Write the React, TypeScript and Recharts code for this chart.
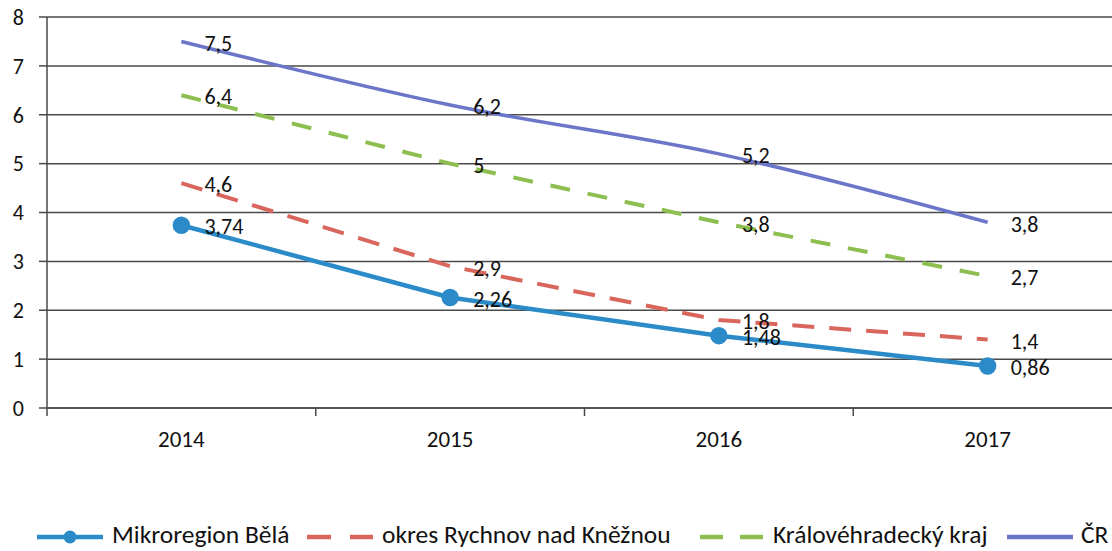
import React from 'react';
import { LineChart, Line, XAxis, YAxis, CartesianGrid, LabelList } from 'recharts';

const years = ['2014', '2015', '2016', '2017'];
const mikroregion = [3.74, 2.26, 1.48, 0.86];
const okres = [4.6, 2.9, 1.8, 1.4];
const kraj = [6.4, 5, 3.8, 2.7];
const cr = [7.5, 6.2, 5.2, 3.8];
const yTicks = [0, 1, 2, 3, 4, 5, 6, 7, 8];

const FONT = 'Carlito, Lato, "Open Sans", sans-serif';
const GRID = '#4a4a4a';

const data = years.map((year, i) => ({
  year,
  mikroregion: mikroregion[i],
  okres: okres[i],
  kraj: kraj[i],
  cr: cr[i],
}));

const W = 1122;
const H = 551;
const margin = { top: 17, right: 0, left: 1, bottom: 103 };
const Y_W = 46;
const band = (W - margin.left - margin.right - Y_W) / years.length;

const fmt = (v: number) => String(v).replace('.', ',');

const ValueLabel = (props: any) => {
  const { x, y, value } = props;
  return (
    <text x={x + 23} y={y + 4} fontSize={22} fontFamily={FONT} fill="#111" dominantBaseline="middle">
      {fmt(value)}
    </text>
  );
};

const XTick = (props: any) => {
  const { x, y, payload, index } = props;
  const top = y - 8;
  return (
    <g>
      {index === 0 && <line x1={x - band / 2} x2={x - band / 2} y1={top} y2={y} stroke={GRID} strokeWidth={1.5} />}
      <line x1={x + band / 2} x2={x + band / 2} y1={top} y2={y} stroke={GRID} strokeWidth={1.5} />
      <text x={x} y={y + 26} textAnchor="middle" dominantBaseline="middle" fontSize={23} fontFamily={FONT} fill="#111">
        {payload.value}
      </text>
    </g>
  );
};

const legendItems = [
  { name: 'Mikroregion Bělá', color: '#2b8bc8', dash: undefined, dot: true, iconX: 37, textX: 112 },
  { name: 'okres Rychnov nad Kněžnou', color: '#d9665c', dash: '24 19', dot: false, iconX: 307, textX: 382 },
  { name: 'Královéhradecký kraj', color: '#8cbf4f', dash: '23 17', dot: false, iconX: 700, textX: 773 },
  { name: 'ČR', color: '#6b76c9', dash: undefined, dot: false, iconX: 1007, textX: 1081 },
];

export default function App() {
  return (
    <div style={{ position: 'fixed', left: 0, top: 0, width: 1112, height: 551, overflow: 'hidden', background: '#fff' }}>
      <LineChart width={W} height={H} data={data} margin={margin}>
        <CartesianGrid vertical={false} stroke={GRID} strokeWidth={1.5} />
        <XAxis
          dataKey="year"
          height={40}
          stroke={GRID}
          strokeWidth={1.5}
          tickLine={false}
          tickSize={8}
          tickMargin={0}
          tick={<XTick />}
          interval={0}
          padding={{ left: band / 2, right: band / 2 }}
        />
        <YAxis
          width={Y_W}
          domain={[0, 8]}
          ticks={yTicks}
          stroke={GRID}
          strokeWidth={1.5}
          tickSize={8}
          tickMargin={15}
          tick={{ fontSize: 22, fontFamily: FONT, fill: '#111' }}
          tickLine={{ stroke: GRID, strokeWidth: 1.5 }}
        />
        <Line type="linear" dataKey="mikroregion" stroke="#2b8bc8" strokeWidth={4.5}
          dot={{ r: 6.5, fill: '#2b8bc8', stroke: '#2b8bc8' }} isAnimationActive={false}>
          <LabelList dataKey="mikroregion" content={<ValueLabel />} />
        </Line>
        <Line type="linear" dataKey="okres" stroke="#d9665c" strokeWidth={4} strokeDasharray="22 15"
          dot={false} isAnimationActive={false}>
          <LabelList dataKey="okres" content={<ValueLabel />} />
        </Line>
        <Line type="linear" dataKey="kraj" stroke="#8cbf4f" strokeWidth={4} strokeDasharray="20 18"
          dot={false} isAnimationActive={false}>
          <LabelList dataKey="kraj" content={<ValueLabel />} />
        </Line>
        <Line type="monotone" dataKey="cr" stroke="#6b76c9" strokeWidth={3.5}
          dot={false} isAnimationActive={false}>
          <LabelList dataKey="cr" content={<ValueLabel />} />
        </Line>
      </LineChart>
      {legendItems.map((it) => (
        <React.Fragment key={it.name}>
          <svg width={66} height={16} style={{ position: 'absolute', left: it.iconX, top: 529 }}>
            <line x1={0} x2={66} y1={8} y2={8} stroke={it.color} strokeWidth={4.5} strokeDasharray={it.dash} />
            {it.dot && <circle cx={33} cy={8} r={6.5} fill={it.color} />}
          </svg>
          <div style={{ position: 'absolute', left: it.textX, top: 522, height: 26, lineHeight: '26px', whiteSpace: 'nowrap', fontFamily: FONT, fontSize: 25.5, color: '#111' }}>
            {it.name}
          </div>
        </React.Fragment>
      ))}
    </div>
  );
}
